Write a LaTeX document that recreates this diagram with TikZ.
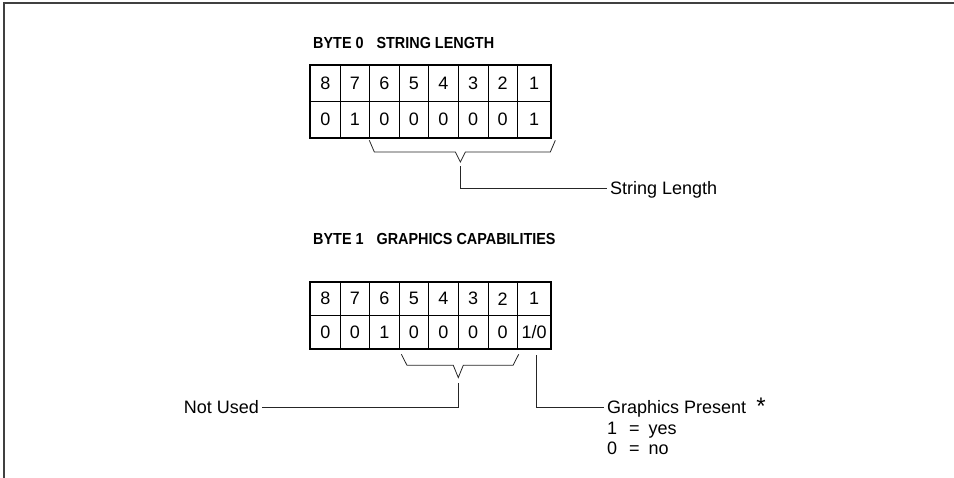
\documentclass[tikz,border=0pt]{standalone}
\usepackage{fontspec}
\setmainfont{Liberation Sans}
\usetikzlibrary{calc,positioning}

\tikzset{
	bitcell/.style={draw, line width=0.6pt, inner sep=0pt, minimum height=#1, font=\fontsize{18}{20}\selectfont},
	bytetitle/.style={anchor=west, inner sep=0pt, text height=11.5pt, text depth=0pt, font=\bfseries\fontsize{16}{18}\selectfont},
	lbl/.style={inner xsep=3pt, inner ysep=0pt, text height=13pt, text depth=0pt, font=\fontsize{18}{20}\selectfont},
	lead/.style={line width=0.8pt, black!85},
}

\begin{document}
\begin{tikzpicture}[x=1pt, y=-1pt]
	\useasboundingbox (0,0) rectangle (954,478);
	% frame
	\draw[line width=1.5pt, black!75] (954,3) -- (4,3) -- (4,478);
	
	\node[bytetitle] (titleA) at (313,43) {\scalebox{0.9}[1]{BYTE 0\hspace{0.9em}STRING LENGTH}};
	\node[bytetitle] (titleB) at (313,239) {\scalebox{0.9}[1]{BYTE 1\hspace{0.9em}GRAPHICS CAPABILITIES}};
	
	% bit cells 8..2
	\foreach \b/\va/\vb [count=\k from 0] in {8/0/0,7/1/0,6/0/1,5/0/0,4/0/0,3/0/0,2/0/0} {
		\node[bitcell=36.5pt, minimum width=29.55pt] (an\b) at ({325.3+29.55*\k},83.25) {\b};
		\node[bitcell=36.5pt, minimum width=29.55pt] (av\b) at ({325.3+29.55*\k},119.75) {\va};
		\node[bitcell=33.5pt, minimum width=29.55pt] (bn\b) at ({325.3+29.55*\k},298.75) {\b};
		\node[bitcell=33.5pt, minimum width=29.55pt] (bv\b) at ({325.3+29.55*\k},332.25) {\vb};
	}
	% bit 1
	\node[bitcell=36.5pt, minimum width=33.65pt] (an1) at (534.2,83.25) {1};
	\node[bitcell=36.5pt, minimum width=33.65pt] (av1) at (534.2,119.75) {1};
	\node[bitcell=33.5pt, minimum width=33.65pt] (bn1) at (534.2,298.75) {1};
	\node[bitcell=33.5pt, minimum width=33.65pt] (bv1) at (534.2,332.25) {1/0};
	
	\draw[line width=1.8pt] (an8.north west) rectangle (av1.south east);
	\draw[line width=1.8pt] (bn8.north west) rectangle (bv1.south east);
	
	% braces
	\coordinate (tipA) at ($(av6.south west)!0.5!(av1.south east)+(0,23.7)$);
	\draw[lead] ($(av6.south west)+(0,2)$) -- ++(5,11.7) -- ($(tipA)+(-5,-10)$) -- (tipA)
		-- ($(tipA)+(5,-10)$) -- ($(av1.south east)+(-1,13.7)$) -- ++(5,-11.7);
	\coordinate (tipB) at ($(bv5.south west)!0.5!(bv2.south east)+(0,28.3)$);
	\draw[lead] ($(bv5.south west)+(2.5,5)$) -- ++(5.6,11) -- ($(tipB)+(-5,-12.3)$) -- (tipB)
		-- ($(tipB)+(5,-12.3)$) -- ($(bv2.south east)+(-4.6,16)$) -- ++(5.6,-11);
	
	% labels
	\node[lbl, anchor=west] (strlen) at (607,188.3) {String Length};
	\node[lbl, anchor=west] (gfxpres) at (604,407.3) {Graphics Present\hspace{10pt}\raisebox{-1pt}{\fontsize{24}{24}\selectfont *}};
	\node[lbl, anchor=west] (gfxyes) at (604,428.3) {1\hspace{12pt}=\hspace{9pt}yes};
	\node[lbl, anchor=west] (gfxno) at (604,448.3) {0\hspace{12pt}=\hspace{9pt}no};
	\node[lbl, anchor=east] (notused) at (262,407.3) {Not Used};
	
	\coordinate (legA) at ($(tipA)+(0,4.5)$);
	\coordinate (legB) at ($(tipB)+(0,5.4)$);
	\coordinate (legC) at ($(bv1.south)+(1.8,6)$);
	\draw[lead] (legA) |- (strlen.west);
	\draw[lead] (legB) |- (notused.east);
	\draw[lead] (legC) |- (gfxpres.west);
\end{tikzpicture}
\end{document}
